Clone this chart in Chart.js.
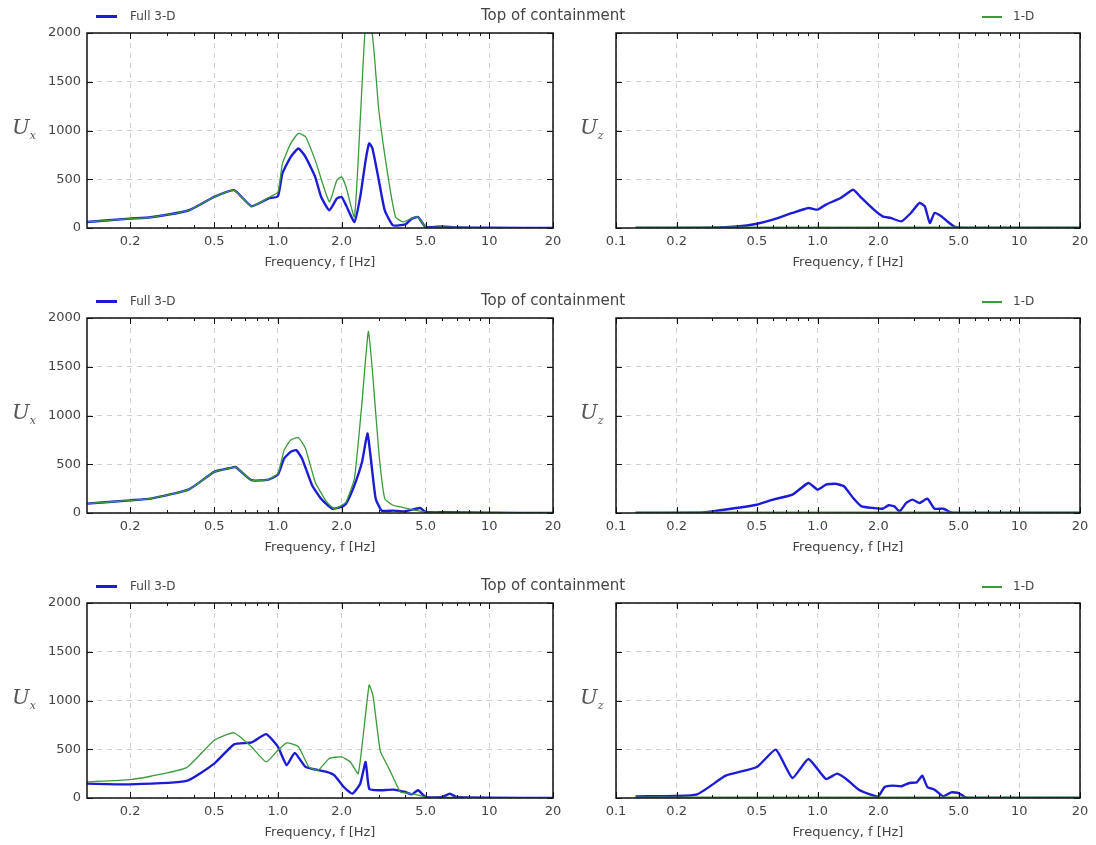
<!DOCTYPE html>
<html>
<head>
<meta charset="utf-8">
<script src="https://cdn.jsdelivr.net/npm/chart.js@4.4.0/dist/chart.umd.min.js"></script>
<style>
  body { margin:0; width:1096px; height:845px; overflow:hidden; background:#fff; position:relative;
         font-family:'DejaVu Sans', sans-serif; color:#444; }
  canvas { position:absolute; }
  .txt { position:absolute; white-space:nowrap; line-height:1; }
  .leg { font-size:12px; }
  .title { font-size:15px; transform:translateX(-50%); }
  .ulab { font-family:'DejaVu Serif', serif; font-style:italic; font-size:21px; color:#555; }
  .ulab sub { font-size:11px; vertical-align:-5px; }
  .swatch { position:absolute; }
</style>
</head>
<body>
<script>
// ---- data (frequency in Hz, amplitude) ----

// row 1 - left (Ux)
const r1UxF3d = [0.125, 0.2, 0.25, 0.38, 0.5, 0.62, 0.75, 0.9, 1.0, 1.05, 1.15, 1.25, 1.35, 1.5, 1.6, 1.75, 1.9, 2.0, 2.1, 2.3, 2.45, 2.6, 2.7, 2.8, 3.0, 3.2, 3.5, 4.0, 4.3, 4.6, 5.0, 6, 7, 10, 20];
const r1Ux3d  = [62, 96, 110, 182, 319, 388, 223, 302, 326, 560, 730, 816, 730, 525, 320, 182, 302, 319, 233, 62, 319, 696, 868, 816, 490, 182, 27, 38, 96, 113, 10, 17, 5, 3, 0];
const r1UxF1d = [0.125, 0.2, 0.25, 0.38, 0.5, 0.62, 0.75, 0.9, 1.0, 1.05, 1.15, 1.25, 1.35, 1.5, 1.75, 1.9, 2.0, 2.1, 2.3, 2.45, 2.6, 2.75, 2.85, 3.0, 3.3, 3.6, 3.9, 4.3, 4.6, 5.0, 6, 10, 20];
const r1Ux1d  = [62, 96, 110, 182, 319, 388, 223, 310, 370, 660, 868, 970, 936, 696, 268, 490, 525, 420, 113, 1100, 2100, 2100, 1800, 1210, 560, 113, 62, 100, 113, 10, 10, 3, 0];

// row 1 - right (Uz)
const r1UzF3d = [0.125, 0.3, 0.4, 0.5, 0.6, 0.75, 0.9, 1.0, 1.1, 1.3, 1.5, 1.65, 1.9, 2.1, 2.3, 2.6, 2.9, 3.2, 3.4, 3.6, 3.8, 4.1, 4.5, 4.8, 5.5, 10, 20];
const r1Uz3d  = [0, 2, 15, 44, 85, 154, 205, 188, 240, 308, 393, 308, 188, 120, 103, 68, 154, 257, 222, 51, 154, 120, 51, 10, 0, 0, 0];
const r1UzF1d = [0.125, 1, 20];
const r1Uz1d  = [10, 10, 10];

// row 2 - left (Ux)
const r2UxF3d = [0.125, 0.2, 0.25, 0.38, 0.5, 0.6, 0.63, 0.75, 0.9, 1.0, 1.07, 1.15, 1.22, 1.3, 1.45, 1.6, 1.8, 2.0, 2.1, 2.3, 2.5, 2.65, 2.75, 2.9, 3.1, 3.5, 4.0, 4.7, 5.0, 6, 10, 20];
const r2Ux3d  = [96, 130, 147, 243, 422, 463, 473, 336, 343, 394, 559, 628, 645, 559, 285, 147, 45, 62, 96, 285, 525, 816, 559, 147, 24, 24, 17, 51, 10, 7, 3, 0];
const r2UxF1d = [0.125, 0.2, 0.25, 0.38, 0.5, 0.6, 0.63, 0.75, 0.9, 1.0, 1.07, 1.15, 1.25, 1.35, 1.5, 1.7, 1.85, 2.0, 2.1, 2.3, 2.5, 2.6, 2.68, 2.8, 3.0, 3.2, 3.5, 3.8, 4.2, 5.0, 6, 10, 20];
const r2Ux1d  = [96, 130, 147, 243, 422, 463, 473, 336, 343, 405, 645, 748, 772, 662, 319, 113, 45, 79, 113, 353, 1142, 1588, 1862, 1451, 628, 147, 79, 62, 40, 10, 7, 3, 0];

// row 2 - right (Uz)
const r2UzF3d = [0.125, 0.25, 0.3, 0.5, 0.6, 0.75, 0.9, 1.0, 1.1, 1.22, 1.35, 1.5, 1.65, 1.9, 2.1, 2.25, 2.4, 2.55, 2.75, 2.95, 3.2, 3.5, 3.8, 4.2, 4.6, 5.0, 10, 20];
const r2Uz3d  = [0, 2, 17, 85, 137, 188, 308, 240, 291, 300, 274, 154, 68, 51, 44, 79, 68, 17, 103, 137, 103, 147, 44, 44, 5, 0, 0, 0];
const r2UzF1d = [0.125, 1, 20];
const r2Uz1d  = [10, 10, 10];

// row 3 - left (Ux)
const r3UxF3d = [0.125, 0.2, 0.37, 0.5, 0.62, 0.75, 0.88, 1.0, 1.1, 1.2, 1.35, 1.5, 1.7, 1.85, 2.05, 2.25, 2.45, 2.6, 2.7, 3.0, 3.5, 4.0, 4.3, 4.6, 5.0, 6.0, 6.5, 7.0, 10, 20];
const r3Ux3d  = [147, 140, 175, 353, 550, 570, 655, 525, 336, 463, 319, 292, 268, 233, 113, 45, 147, 370, 96, 79, 86, 62, 38, 79, 10, 10, 45, 10, 3, 0];
const r3UxF1d = [0.125, 0.2, 0.25, 0.37, 0.5, 0.62, 0.75, 0.88, 1.0, 1.1, 1.25, 1.4, 1.55, 1.75, 2.0, 2.2, 2.4, 2.7, 2.82, 3.05, 3.3, 3.5, 3.8, 4.3, 5.0, 6, 10, 20];
const r3Ux1d  = [165, 189, 223, 312, 593, 669, 525, 370, 490, 566, 525, 319, 285, 405, 422, 370, 250, 1160, 1040, 480, 330, 216, 62, 45, 10, 7, 3, 0];

// row 3 - right (Uz)
const r3UzF3d = [0.125, 0.25, 0.35, 0.5, 0.62, 0.75, 0.9, 1.1, 1.25, 1.4, 1.6, 1.9, 2.0, 2.15, 2.35, 2.6, 2.85, 3.1, 3.3, 3.5, 3.8, 4.2, 4.6, 5.0, 5.5, 10, 20];
const r3Uz3d  = [17, 34, 229, 318, 496, 205, 400, 195, 250, 188, 85, 24, 17, 113, 127, 120, 154, 160, 229, 113, 85, 17, 58, 51, 0, 0, 0];
const r3UzF1d = [0.125, 1, 20];
const r3Uz1d  = [10, 10, 10];

// axis ticks
const freqTicks = [0.1, 0.2, 0.5, 1, 2, 5, 10, 20];
const ampTicks = [0, 500, 1000, 1500, 2000];

const BLUE = '#1c1cd4';
const GREEN = '#3b9a3b';
const ROW_H = 285;

// inward ticks + black frame, matplotlib classic look
const frameTicks = {
    id: 'frameTicks',
    afterDatasetsDraw(chart) {
        const { ctx, chartArea: a, scales: { x, y } } = chart;
        ctx.save();
        ctx.strokeStyle = '#111';
        ctx.lineWidth = 1;
        ctx.beginPath();
        for (let p = -1; p <= 1; p++) {
            for (let k = 1; k <= 9; k++) {
                const v = k * Math.pow(10, p);
                if (v < x.min || v > x.max) continue;
                const px = Math.round(x.getPixelForValue(v)) + 0.5;
                const len = freqTicks.includes(+v.toFixed(3)) ? 6 : 3;
                ctx.moveTo(px, a.bottom); ctx.lineTo(px, a.bottom - len);
                ctx.moveTo(px, a.top); ctx.lineTo(px, a.top + len);
            }
        }
        ampTicks.forEach(v => {
            const py = Math.round(y.getPixelForValue(v)) + 0.5;
            ctx.moveTo(a.left, py); ctx.lineTo(a.left + 6, py);
            ctx.moveTo(a.right, py); ctx.lineTo(a.right - 6, py);
        });
        ctx.stroke();
        ctx.lineWidth = 1.5;
        ctx.strokeRect(a.left, a.top, a.right - a.left, a.bottom - a.top);
        ctx.restore();
    }
};

function series(f, v) {
    return f.map((fx, i) => ({ x: fx, y: v[i] }));
}

function makePanel(row, side, f3d, v3d, f1d, v1d) {
    const isLeft = side === 'left';
    const canvas = document.createElement('canvas');
    const w = isLeft ? 575 : 536;
    canvas.width = w;
    canvas.height = ROW_H;
    canvas.style.left = (isLeft ? 0 : 560) + 'px';
    canvas.style.top = (row * ROW_H) + 'px';
    document.body.appendChild(canvas);

    const tickFont = { family: 'DejaVu Sans', size: 13 };

    new Chart(canvas, {
        type: 'line',
        data: {
            datasets: [
                { label: '1-D', data: series(f1d, v1d), borderColor: GREEN, borderWidth: 1.3,
                  pointRadius: 0, tension: 0.15 },
                { label: 'Full 3-D', data: series(f3d, v3d), borderColor: BLUE, borderWidth: 2.4,
                  pointRadius: 0, tension: 0.15 }
            ]
        },
        options: {
            responsive: false,
            animation: false,
            layout: { padding: { top: 33, right: isLeft ? 22 : 16, left: 0, bottom: 0 } },
            scales: {
                x: {
                    type: 'logarithmic',
                    min: isLeft ? 0.125 : 0.1,
                    max: 20,
                    afterBuildTicks: (scale) => {
                        scale.ticks = freqTicks
                            .filter(v => v >= scale.min * 0.999 && v <= scale.max * 1.001)
                            .map(v => ({ value: v }));
                    },
                    afterFit: (scale) => { scale.height = 57; },
                    ticks: {
                        autoSkip: false, maxRotation: 0, padding: 6,
                        color: '#444', font: tickFont,
                        callback: (v) => (v >= 10 ? String(v) : Number(v).toFixed(1))
                    },
                    grid: { color: '#cfcfcf', lineWidth: 1, drawTicks: false },
                    border: { display: false, dash: [5, 5] },
                    title: {
                        display: true, text: 'Frequency, f [Hz]', color: '#444',
                        font: tickFont, padding: { top: 0, bottom: 15 }
                    }
                },
                y: {
                    min: 0,
                    max: 2000,
                    afterBuildTicks: (scale) => {
                        scale.ticks = ampTicks.map(v => ({ value: v }));
                    },
                    afterFit: (scale) => { scale.width = isLeft ? 87 : 56; },
                    ticks: {
                        display: isLeft, padding: 6, color: '#444', font: tickFont,
                        callback: (v) => String(v)
                    },
                    grid: { color: '#cfcfcf', lineWidth: 1, drawTicks: false },
                    border: { display: false, dash: [5, 5] }
                }
            },
            plugins: {
                legend: { display: false },
                tooltip: { enabled: false }
            }
        },
        plugins: [frameTicks]
    });
}

function addText(cls, html, left, top) {
    const d = document.createElement('div');
    d.className = 'txt ' + cls;
    d.innerHTML = html;
    d.style.left = left + 'px';
    d.style.top = top + 'px';
    document.body.appendChild(d);
}

function addSwatch(color, left, top, width, height) {
    const d = document.createElement('div');
    d.className = 'swatch';
    d.style.cssText += `left:${left}px; top:${top}px; width:${width}px; height:${height}px; background:${color};`;
    document.body.appendChild(d);
}

const rows = [
    [r1UxF3d, r1Ux3d, r1UxF1d, r1Ux1d, r1UzF3d, r1Uz3d, r1UzF1d, r1Uz1d],
    [r2UxF3d, r2Ux3d, r2UxF1d, r2Ux1d, r2UzF3d, r2Uz3d, r2UzF1d, r2Uz1d],
    [r3UxF3d, r3Ux3d, r3UxF1d, r3Ux1d, r3UzF3d, r3Uz3d, r3UzF1d, r3Uz1d]
];

rows.forEach((r, i) => {
    makePanel(i, 'left', r[0], r[1], r[2], r[3]);
    makePanel(i, 'right', r[4], r[5], r[6], r[7]);

    const oy = i * ROW_H;
    // figure legend + title above each row
    addSwatch(BLUE, 96, oy + 15, 21, 3);
    addText('leg', 'Full 3-D', 130, oy + 10);
    addText('title', 'Top of containment', 553, oy + 8);
    addSwatch(GREEN, 982, oy + 16, 20, 2);
    addText('leg', '1-D', 1013, oy + 10);

    addText('ulab', 'U<sub>x</sub>', 12, oy + 117);
    addText('ulab', 'U<sub>z</sub>', 580, oy + 117);
});
</script>
</body>
</html>
